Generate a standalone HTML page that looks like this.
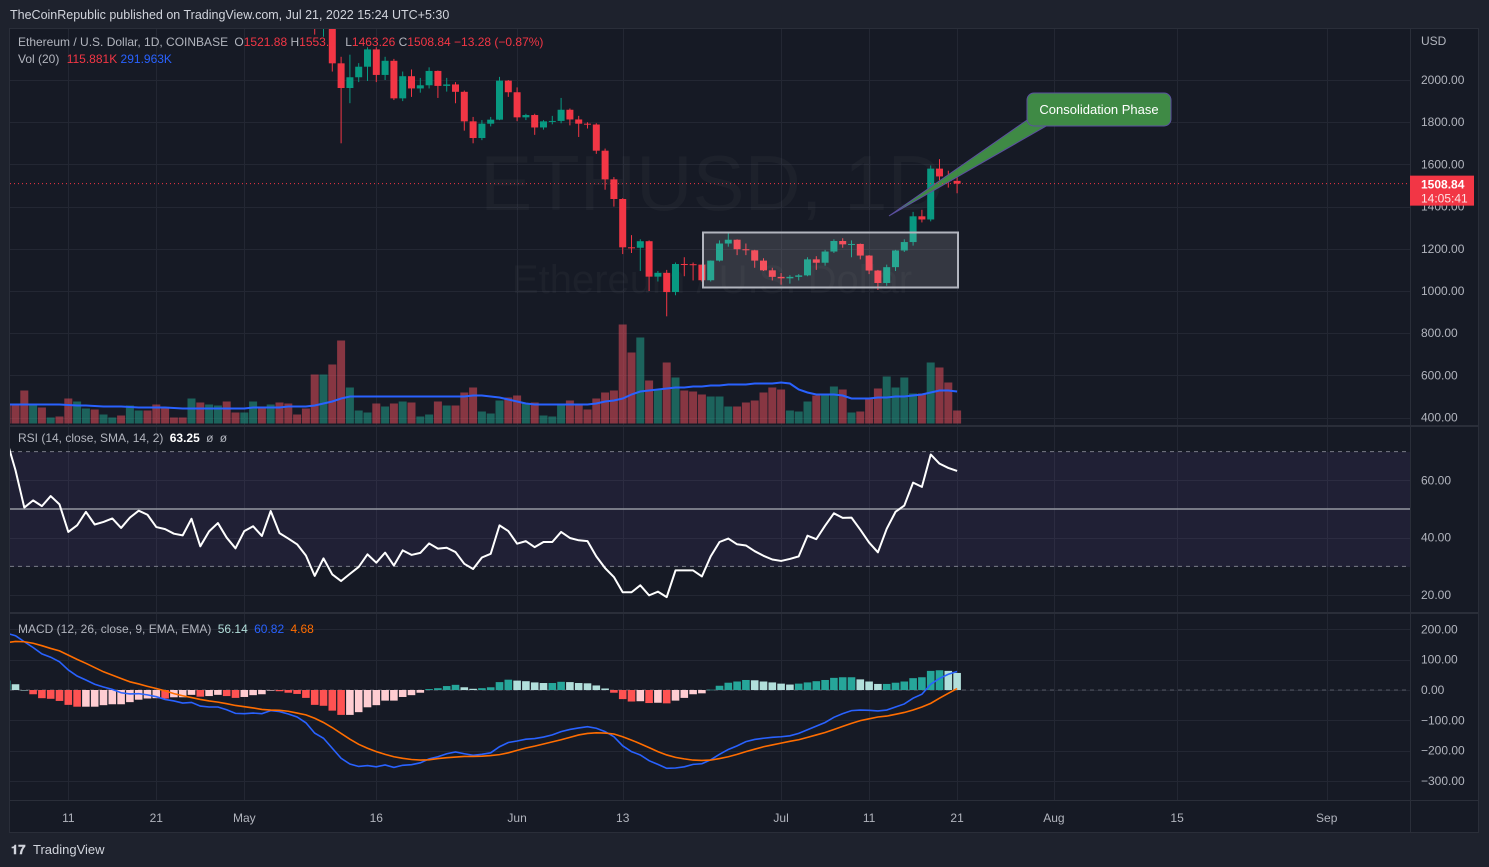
<!DOCTYPE html>
<html><head><meta charset="utf-8"><style>
html,body{margin:0;padding:0;background:#1e222d;}
svg{display:block;font-family:"Liberation Sans",sans-serif;}
</style></head><body>
<svg id="chart" width="1489" height="867" viewBox="0 0 1489 867" xmlns="http://www.w3.org/2000/svg">
<defs>
<clipPath id="cMain"><rect x="10" y="29" width="1400" height="397"/></clipPath>
<clipPath id="cRsi"><rect x="10" y="427" width="1400" height="186"/></clipPath>
<clipPath id="cMacd"><rect x="10" y="614" width="1400" height="186"/></clipPath>
</defs>
<rect x="0" y="0" width="1489" height="867" fill="#1e222d"/>
<text x="10" y="19" fill="#d1d4dc" font-size="12.5">TheCoinRepublic published on TradingView.com, Jul 21, 2022 15:24 UTC+5:30</text>
<rect x="9.5" y="28.5" width="1469" height="804" fill="#161a25" stroke="#2a2e39"/>
<g id="grid"></g>
<g id="watermark">
<text x="712" y="210" fill="#ffffff" fill-opacity="0.03" font-size="78" text-anchor="middle">ETHUSD, 1D</text>
<text x="712" y="293" fill="#ffffff" fill-opacity="0.03" font-size="40" text-anchor="middle">Ethereum / U.S. Dollar</text>
</g>
<rect x="10" y="452" width="1400" height="115" fill="#7e57c2" fill-opacity="0.1"/>
<g id="vol" clip-path="url(#cMain)"></g>
<g id="candles" clip-path="url(#cMain)"></g>
<rect x="703" y="232.5" width="255" height="55" fill="#ffffff" fill-opacity="0.13" stroke="#b2b5be" stroke-width="2"/>
<g id="rsi" clip-path="url(#cRsi)"></g>
<g id="macd" clip-path="url(#cMacd)"></g>
<g>
<polygon points="889,216 1030,118 1048,125" fill="#3f8a45" stroke="#5b4fa0" stroke-width="1"/>
<rect x="1027" y="93" width="144" height="33" rx="7" fill="#3f8a45" stroke="#5b4fa0" stroke-width="1"/>
<text x="1099" y="114" fill="#ffffff" font-size="13" text-anchor="middle">Consolidation Phase</text>
</g>
<line x1="10" y1="426" x2="1478" y2="426" stroke="#2a2e39" stroke-width="2"/>
<line x1="10" y1="613" x2="1478" y2="613" stroke="#2a2e39" stroke-width="2"/>
<line x1="10" y1="800.5" x2="1478" y2="800.5" stroke="#2a2e39"/>
<line x1="1410.5" y1="29" x2="1410.5" y2="832" stroke="#2a2e39"/>
<g id="axes" font-size="12" fill="#b2b5be"></g>
<g font-size="12">
<text x="18" y="46" fill="#b2b5be">Ethereum / U.S. Dollar, 1D, COINBASE <tspan dx="3" fill="#b2b5be">O</tspan><tspan fill="#f23645">1521.88</tspan> <tspan fill="#b2b5be">H</tspan><tspan fill="#f23645">1553.8</tspan> <tspan dx="6" fill="#b2b5be">L</tspan><tspan fill="#f23645">1463.26</tspan> <tspan fill="#b2b5be">C</tspan><tspan fill="#f23645">1508.84</tspan> <tspan fill="#f23645">−13.28 (−0.87%)</tspan></text>
<text x="18" y="63" fill="#b2b5be">Vol (20) <tspan fill="#f23645" dx="4">115.881K</tspan> <tspan fill="#2962ff">291.963K</tspan></text>
<text x="18" y="442" fill="#b2b5be">RSI (14, close, SMA, 14, 2) <tspan fill="#ffffff" font-weight="bold" dx="3">63.25</tspan> <tspan dx="3">ø</tspan> <tspan dx="3">ø</tspan></text>
<text x="18" y="633" fill="#b2b5be">MACD (12, 26, close, 9, EMA, EMA) <tspan fill="#b2dfdb" dx="3">56.14</tspan> <tspan fill="#2962ff" dx="3">60.82</tspan> <tspan fill="#ff6d00" dx="3">4.68</tspan></text>
</g>
<g>
<text x="11" y="854" fill="#d1d4dc" font-size="13" font-weight="bold">𝟏𝟕</text>
<text x="33" y="854" fill="#d1d4dc" font-size="13">TradingView</text>
</g>
</svg>
<script>
const NS = "http://www.w3.org/2000/svg";
// ---- data ----
const priceTicks = [2000, 1800, 1600, 1400, 1200, 1000, 800, 600, 400];
const rsiTicks = [60, 40, 20];
const macdTicks = [200, 100, 0, -100, -200, -300];
const dateLabels = ["11", "21", "May", "16", "Jun", "13", "Jul", "11", "21", "Aug", "15", "Sep"];
const dateIndex = [7, 17, 27, 42, 58, 70, 88, 98, 108, 119, 133, 150];
const priceStart = 35;
const firstOpen = 2518;
const closes = [2245,2343,2079,1962,2013,2063,2145,2024,2091,1913,2018,1960,1975,2043,1972,1979,1944,1804,1725,1793,1812,1997,1942,1823,1834,1775,1804,1806,1859,1813,1793,1789,1665,1529,1436,1207,1205,1236,1068,1086,995,1128,1127,1125,1051,1144,1225,1243,1198,1193,1144,1098,1067,1060,1067,1074,1150,1134,1187,1237,1221,1223,1168,1097,1038,1113,1192,1232,1354,1339,1580,1543,1522,1508.84];
const highs = [2525,2450,2395,2110,2120,2080,2155,2155,2110,2100,2040,2050,2010,2060,2045,2010,1990,1950,1825,1810,1825,2015,2000,1965,1840,1840,1810,1830,1915,1865,1830,1800,1795,1675,1540,1440,1265,1245,1240,1095,1100,1135,1160,1135,1125,1145,1240,1275,1245,1225,1195,1155,1110,1085,1075,1080,1160,1165,1195,1245,1250,1240,1225,1170,1100,1125,1195,1245,1375,1385,1595,1625,1570,1553.8];
const lows = [2215,2205,2040,1700,1890,1990,1995,1990,2000,1905,1900,1920,1940,1960,1915,1945,1890,1760,1700,1715,1780,1810,1920,1805,1810,1740,1765,1790,1795,1785,1730,1770,1650,1480,1400,1175,1180,1095,1000,1045,880,980,1070,1050,1045,1045,1140,1210,1170,1170,1110,1095,1050,1030,1035,1050,1070,1100,1120,1180,1205,1160,1150,1080,1005,1025,1095,1185,1215,1325,1330,1525,1490,1463.26];
// volume in 10K units; up/down per bar
const volumes = [20,18,33,18,16,6,7,25,22,15,14,9,6,8,18,13,13,19,15,6,6,25,21,19,18,22,11,11,22,17,19,21,20,9,15,49,49,59,83,36,13,11,20,17,20,22,21,7,9,22,18,18,31,36,12,10,23,26,28,20,21,8,7,19,23,18,14,25,31,33,99,71,86,43,34,61,46,33,32,29,27,27,17,17,21,23,31,36,34,13,12,22,28,29,37,34,11,12,25,35,47,36,46,30,30,61,56,41,13];
const volUp = [0,0,0,1,0,1,0,0,1,1,0,1,1,0,1,1,0,0,0,0,0,1,0,1,1,0,0,1,1,0,1,0,0,0,0,0,1,0,0,1,1,1,0,1,0,1,0,1,1,0,1,0,0,0,1,1,1,0,0,1,0,1,1,1,0,0,0,0,0,0,0,0,1,0,1,0,1,0,0,0,1,1,1,0,0,0,0,0,0,1,1,1,0,1,1,0,1,0,0,0,1,1,1,1,0,1,0,0,0];
const volMA = [19,19,19,19,19,19,19,18.5,18,18,17.5,17,17,17,16.5,16,16,16,16,15.5,15,15,15,15,15,15,15,15,16,16,16,16,17,17,17,18,20,22,25,27,27,27,27,27,27,27,27,27,27,27,27,27,27,28,28,27,26,24,22,20,19,19,19,19,19,19,19,20,22,23,25,29,32,33,34,35,36,36,37,37,38,38,39,39,39,40,40,40,41,40,34,31,29,29,29,28,25,25,25,26,26,27,27,28,29,31,33,33,32];
const rsiValues = [74,63.5,50.5,53,51,54.5,51.6,42,44.3,49,44.6,45.5,46.7,43.4,47,49.4,48,43.7,43,41.4,40.8,46.6,37,42.2,45.1,40,36.3,42.3,44,40.6,49.3,41.6,39.7,37.7,33.8,26.7,32.8,27.2,24.9,27.4,29.8,34.2,31.3,34.8,30.3,35.6,34,34.7,38,36.2,36.5,35,30.9,29.1,33.1,34.4,44.3,42.3,37.9,38.8,36.7,38.5,38.5,42,39.9,39.1,38.8,33.5,29.4,26.3,21,21,23.4,19.9,21.2,19.3,28.6,28.6,28.6,26.5,33.5,38.5,39.7,37.7,37.3,35.3,33.7,32.4,31.9,32.6,33.5,40.7,39.5,44.2,48.5,46.9,47,42.8,38.3,34.9,43.1,49,51.2,59.2,57.7,69,65.8,64.3,63.25];
const macdLine = [187,179,159,140,119,108,93,66,46,33,19,10,2,-9,-13,-12,-16,-22,-31,-36,-43,-41,-53,-56,-56,-65,-77,-78,-76,-78,-68,-71,-79,-89,-108,-142,-159,-192,-225,-244,-252,-249,-253,-247,-255,-248,-246,-240,-227,-220,-210,-204,-210,-215,-212,-207,-187,-173,-168,-162,-160,-155,-148,-137,-130,-125,-121,-126,-137,-154,-184,-203,-214,-233,-245,-258,-257,-253,-245,-243,-230,-212,-196,-184,-170,-163,-159,-156,-154,-151,-143,-131,-119,-107,-90,-78,-68,-66,-67,-69,-66,-56,-46,-27,-14,19,38,52,60.82];
const signalLine = [156,160,159,154,146,137,129,115,101,88,74,60,49,38,27,20,12,5,-3,-12,-19,-25,-31,-36,-40,-45,-51,-55,-59,-64,-66,-67,-70,-76,-82,-93,-107,-124,-143,-162,-179,-192,-203,-212,-220,-225,-229,-231,-230,-226,-223,-221,-219,-219,-218,-216,-213,-207,-199,-191,-185,-178,-171,-164,-156,-148,-143,-141,-142,-145,-154,-165,-177,-190,-203,-214,-222,-227,-231,-232,-231,-226,-220,-212,-203,-195,-187,-181,-175,-169,-164,-156,-148,-140,-130,-120,-110,-101,-95,-89,-86,-80,-74,-66,-56,-44,-27,-11,4.68];

// ---- scales ----
const xOf = i => 6.7 + 8.8 * i;
const yPrice = p => 80 + (2000 - p) * 42.2 / 200;
const yRsi = r => 509 - (r - 50) * 2.87;
const yMacd = m => 690 - m * 0.3035;
const VOL_BASE = 423.5, VOL_K = 1.0;
const yVol = v => VOL_BASE - v * VOL_K;

function mk(tag, attrs, parent) {
  const e = document.createElementNS(NS, tag);
  for (const k in attrs) e.setAttribute(k, attrs[k]);
  parent.appendChild(e);
  return e;
}
const svg = document.getElementById('chart');
const grid = document.getElementById('grid');
const axes = document.getElementById('axes');
const GRID = '#232733';

dateIndex.forEach((di, k) => {
  const x = Math.round(xOf(di)) + 0.5;
  const gl = mk('line', {x1: x, y1: 29, x2: x, y2: 800, stroke: GRID}, grid);
  
  
  const t = mk('text', {x: xOf(di), y: 822, 'text-anchor': 'middle'}, axes);
  t.textContent = dateLabels[k];
  
  
});
priceTicks.forEach(p => {
  const y = Math.round(yPrice(p)) + 0.5;
  if (y < 425) {
    const gl = mk('line', {x1: 10, y1: y, x2: 1410, y2: y, stroke: GRID}, grid);
    
    
  }
  const t = mk('text', {x: 1421, y: yPrice(p) + 4}, axes);
  t.textContent = p.toFixed(2);
  
  
});
const usd = mk('text', {x: 1421, y: 45}, axes);
usd.textContent = 'USD';


[60, 40, 20].forEach(r => {
  const y = Math.round(yRsi(r)) + 0.5;
  const gl = mk('line', {x1: 10, y1: y, x2: 1410, y2: y, stroke: GRID}, grid);
  
  
});
rsiTicks.forEach(r => {
  const t = mk('text', {x: 1421, y: yRsi(r) + 4}, axes);
  t.textContent = r.toFixed(2);
  
  
});
macdTicks.forEach(m => {
  const y = Math.round(yMacd(m)) + 0.5;
  const gl = mk('line', {x1: 10, y1: y, x2: 1410, y2: y, stroke: GRID}, grid);
  
  
  const t = mk('text', {x: 1421, y: yMacd(m) + 4}, axes);
  t.textContent = m.toFixed(2).replace('-', '−');
  
  
});

const vg = document.getElementById('vol');
volumes.forEach((v, i) => {
  const r = mk('rect', {x: xOf(i) - 4, y: yVol(v), width: 8, height: v * VOL_K, fill: volUp[i] ? '#22ab94' : '#f7525f', 'fill-opacity': 0.5}, vg);
  
  
});
const vma = mk('polyline', {points: volMA.map((v, i) => xOf(i) + ',' + yVol(v)).join(' '), fill: 'none', stroke: '#2962ff', 'stroke-width': 2}, vg);



const cg = document.getElementById('candles');
closes.forEach((c, k) => {
  const i = priceStart + k;
  const o = k === 0 ? firstOpen : closes[k - 1];
  const up = c >= o;
  const col = up ? '#089981' : '#f23645';
  const x = xOf(i);
  const w = mk('line', {x1: x, y1: yPrice(highs[k]), x2: x, y2: yPrice(lows[k]), stroke: col, 'stroke-width': 1}, cg);
  
  
  const top = yPrice(Math.max(o, c)), bot = yPrice(Math.min(o, c));
  const b = mk('rect', {x: x - 3.5, y: top, width: 7, height: Math.max(1, bot - top), fill: col}, cg);
  
  
});
const lastP = closes[closes.length - 1];
const ly = yPrice(lastP);
const lp = mk('line', {x1: 10, y1: ly, x2: 1410, y2: ly, stroke: '#f23645', 'stroke-dasharray': '1 3'}, svg);


const lb = mk('rect', {x: 1410, y: ly - 8, width: 64, height: 30, fill: '#f23645'}, svg);


const lt = mk('text', {x: 1421, y: ly + 5, fill: '#ffffff', 'font-size': 12, 'font-weight': 'bold'}, svg);
lt.textContent = lastP.toFixed(2);


const lt2 = mk('text', {x: 1421, y: ly + 19, fill: '#ffffff', 'fill-opacity': 0.85, 'font-size': 12}, svg);
lt2.textContent = '14:05:41';



const rg = document.getElementById('rsi');
[[70, '4 4', '#787b86'], [30, '4 4', '#787b86'], [50, '', '#9598a1']].forEach(([lv, d, col]) => {
  const l = mk('line', {x1: 10, y1: yRsi(lv), x2: 1410, y2: yRsi(lv), stroke: col, 'stroke-width': lv === 50 ? 1.5 : 1}, rg);
  if (d) l.setAttribute('stroke-dasharray', d);
  
  
});
const rl = mk('polyline', {points: rsiValues.map((r, i) => xOf(i) + ',' + yRsi(r)).join(' '), fill: 'none', stroke: '#ffffff', 'stroke-width': 2, 'stroke-linejoin': 'round'}, rg);



const mg = document.getElementById('macd');
const zl = mk('line', {x1: 10, y1: yMacd(0), x2: 1410, y2: yMacd(0), stroke: '#787b86', 'stroke-dasharray': '4 4', 'stroke-opacity': 0.6}, mg);


macdLine.forEach((m, i) => {
  const h = m - signalLine[i];
  const prev = i > 0 ? macdLine[i - 1] - signalLine[i - 1] : h;
  let col;
  if (h >= 0) col = h >= prev ? '#26a69a' : '#b2dfdb';
  else col = h < prev ? '#ff5252' : '#ffcdd2';
  const y0 = yMacd(0), y1 = yMacd(h);
  const r = mk('rect', {x: xOf(i) - 3.8, y: Math.min(y0, y1), width: 7.6, height: Math.max(0.5, Math.abs(y1 - y0)), fill: col}, mg);
  
  
});
const ml = mk('polyline', {points: macdLine.map((m, i) => xOf(i) + ',' + yMacd(m)).join(' '), fill: 'none', stroke: '#2962ff', 'stroke-width': 1.6}, mg);


const sl = mk('polyline', {points: signalLine.map((m, i) => xOf(i) + ',' + yMacd(m)).join(' '), fill: 'none', stroke: '#ff6d00', 'stroke-width': 1.6}, mg);


</script>
</body></html>
